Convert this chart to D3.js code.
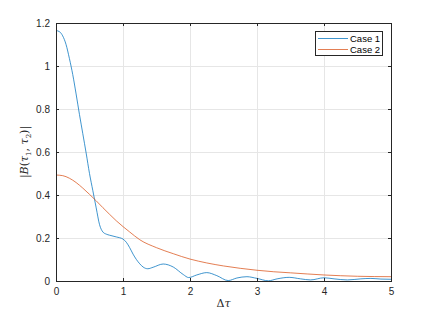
<!DOCTYPE html>
<html>
<head>
<meta charset="utf-8">
<script src="https://cdn.jsdelivr.net/npm/d3@7"></script>
<style>
  body { margin: 0; background: #fff; }
  svg { display: block; font-family: "Liberation Sans", Arial, sans-serif; }
</style>
</head>
<body>
<div id="chart"></div>
<script>
// values
var case1X = [0, 0.05, 0.1, 0.15, 0.2, 0.25, 0.3, 0.35, 0.4, 0.45, 0.5, 0.55, 0.6, 0.65, 0.7, 0.75, 0.8, 0.9, 1.0,
  1.05, 1.1, 1.15, 1.2, 1.25, 1.3, 1.37, 1.45, 1.6, 1.75, 1.9, 1.98, 2.1, 2.25, 2.4, 2.57, 2.7, 2.85, 3.0,
  3.17, 3.3, 3.48, 3.65, 3.8, 4.0, 4.15, 4.35, 4.55, 4.7, 4.85, 5.0];
var case1Y = [1.165, 1.16, 1.14, 1.1, 1.035, 0.96, 0.87, 0.775, 0.685, 0.595, 0.5, 0.42, 0.34, 0.262, 0.228, 0.218, 0.213, 0.205, 0.195,
  0.18, 0.155, 0.125, 0.1, 0.08, 0.065, 0.057, 0.064, 0.079, 0.065, 0.03, 0.016, 0.028, 0.039, 0.025, 0.002, 0.014, 0.02, 0.012,
  0.001, 0.01, 0.017, 0.01, 0.005, 0.015, 0.01, 0.005, 0.01, 0.012, 0.009, 0.008];

var case2X = [0, 0.1, 0.2, 0.3, 0.4, 0.5, 0.6, 0.7, 0.8, 0.9, 1.0, 1.1, 1.25, 1.5, 1.75, 2.0, 2.25, 2.5, 2.75, 3.0, 3.25, 3.5, 4.0, 4.5, 5.0];
var case2Y = [0.493, 0.49, 0.478, 0.458, 0.432, 0.403, 0.373, 0.341, 0.31, 0.28, 0.253, 0.228, 0.192, 0.155, 0.127, 0.102, 0.084, 0.07, 0.059, 0.05, 0.043, 0.038, 0.028, 0.022, 0.02];

var seriesNames = ["Case 1", "Case 2"];
var xTicks = [0, 1, 2, 3, 4, 5];
var yTicks = [0, 0.2, 0.4, 0.6, 0.8, 1, 1.2];

var width = 432, height = 316;
var margin = {left: 56, right: 41, top: 23, bottom: 35};
var colors = ["#0072BD", "#D95319"];

var svg = d3.select("#chart").append("svg")
  .attr("width", width)
  .attr("height", height);

var x = d3.scaleLinear().domain([0, 5]).range([margin.left, width - margin.right]);
var y = d3.scaleLinear().domain([0, 1.2]).range([height - margin.bottom, margin.top]);

// grid
svg.append("g").selectAll("line").data(xTicks.slice(1, -1)).enter().append("line")
  .attr("x1", d => x(d)).attr("x2", d => x(d))
  .attr("y1", y(0)).attr("y2", y(1.2))
  .attr("stroke", "#e6e6e6").attr("stroke-width", 1).attr("shape-rendering", "crispEdges");
svg.append("g").selectAll("line").data(yTicks.slice(1, -1)).enter().append("line")
  .attr("y1", d => y(d)).attr("y2", d => y(d))
  .attr("x1", x(0)).attr("x2", x(5))
  .attr("stroke", "#e6e6e6").attr("stroke-width", 1).attr("shape-rendering", "crispEdges");

// lines
var line = d3.line()
  .x(d => x(d[0]))
  .y(d => y(d[1]))
  .curve(d3.curveMonotoneX);

var series = [d3.zip(case1X, case1Y), d3.zip(case2X, case2Y)];
svg.selectAll(".series").data(series).enter().append("path")
  .attr("class", "series")
  .attr("d", line)
  .attr("fill", "none")
  .attr("stroke", (d, i) => colors[i])
  .attr("stroke-width", 0.75);

// axes (ticks inward, box on)
var tickSize = 3;
var xAxis = d3.axisBottom(x).tickValues(xTicks).tickFormat(d3.format("d")).tickSizeInner(-tickSize).tickSizeOuter(0).tickPadding(7);
var yAxis = d3.axisLeft(y).tickValues(yTicks).tickFormat(d => d === 0 || d === 1 ? d : d3.format(".1f")(d)).tickSizeInner(-tickSize).tickSizeOuter(0).tickPadding(6);

var gx = svg.append("g").attr("transform", "translate(0," + y(0) + ")").call(xAxis);
var gy = svg.append("g").attr("transform", "translate(" + x(0) + ",0)").call(yAxis);
var gxt = svg.append("g").attr("transform", "translate(0," + y(1.2) + ")")
  .call(d3.axisTop(x).tickValues(xTicks).tickFormat("").tickSizeInner(-tickSize).tickSizeOuter(0));
var gyr = svg.append("g").attr("transform", "translate(" + x(5) + ",0)")
  .call(d3.axisRight(y).tickValues(yTicks).tickFormat("").tickSizeInner(-tickSize).tickSizeOuter(0));

[gx, gy, gxt, gyr].forEach(function(g) {
  g.select(".domain").attr("stroke", "#262626").attr("stroke-width", 1);
  g.selectAll(".tick line").attr("stroke", "#262626");
  g.selectAll("text").attr("fill", "#262626").style("font-size", "10px").style("font-family", "Liberation Sans, Arial, sans-serif");
  g.selectAll(".domain, .tick line").attr("shape-rendering", "crispEdges");
});

// axis labels
var xl = svg.append("text")
  .attr("x", (x(0) + x(5)) / 2)
  .attr("y", 307)
  .attr("text-anchor", "middle")
  .attr("fill", "#262626")
  .style("font-size", "11px")
  .style("font-family", "DejaVu Serif, serif");
xl.append("tspan").text("Δ");
xl.append("tspan").style("font-style", "italic").text("τ");

var yl = svg.append("text")
  .attr("transform", "translate(28," + ((y(0) + y(1.2)) / 2) + ") rotate(-90)")
  .attr("text-anchor", "middle")
  .attr("fill", "#262626")
  .style("font-size", "11px")
  .style("font-family", "DejaVu Serif, serif");
yl.append("tspan").text("|");
yl.append("tspan").style("font-style", "italic").text("B");
yl.append("tspan").text("(");
yl.append("tspan").style("font-style", "italic").text("τ");
yl.append("tspan").attr("dy", 2.5).style("font-size", "7px").text("1");
yl.append("tspan").attr("dy", -2.5).text(", ");
yl.append("tspan").style("font-style", "italic").text("τ");
yl.append("tspan").attr("dy", 2.5).style("font-size", "7px").text("2");
yl.append("tspan").attr("dy", -2.5).text(")|");

// legend
var legend = svg.append("g");
legend.append("rect")
  .attr("x", 315.5).attr("y", 31.5)
  .attr("width", 67).attr("height", 24)
  .attr("fill", "#fff")
  .attr("stroke", "#262626").attr("stroke-width", 1);
var items = legend.selectAll(".item").data(seriesNames).enter().append("g")
  .attr("transform", (d, i) => "translate(0," + (38.5 + i * 11) + ")");
items.append("line")
  .attr("x1", 318).attr("x2", 348)
  .attr("stroke", (d, i) => colors[i]).attr("stroke-width", 0.75);
items.append("text")
  .attr("x", 350).attr("y", 3.5)
  .attr("fill", "#000")
  .style("font-size", "9.5px")
  .text(d => d);
</script>
</body>
</html>
